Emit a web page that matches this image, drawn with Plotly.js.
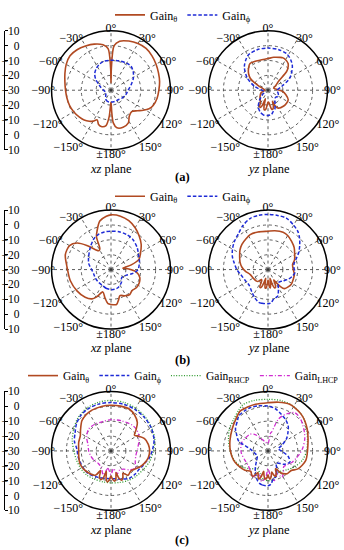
<!DOCTYPE html>
<html><head><meta charset="utf-8">
<script src="https://cdn.plot.ly/plotly-3.0.1.min.js"></script>
<style>html,body{margin:0;padding:0;background:#fff}#g{width:344px;height:550px}</style>
</head><body><div id="g"></div>
<script>
// ---------- tick labels ----------
const angTickVals = [0,30,60,90,120,150,180,210,240,270,300,330];
const angTickText = ['0°','30°','60°','90°','120°','150°','±180°','−150°','−120°','−90°','−60°','−30°'];
const radGridVals = [-20,-10,0];
const radRange = [-30,10];
const scaleVals = [-40,-30,-20,-10,0,10,20,30,40];
const scaleText = ['10','0','−10','−20','−30','−20','−10','0','10'];
const seriesNames = ['Gain<sub>θ</sub>','Gain<sub>ϕ</sub>','Gain<sub>RHCP</sub>','Gain<sub>LHCP</sub>'];
const panelLabels = ['(a)','(b)','(c)'];

// ---------- (a) ----------
const a_xz_T_ang = [-180,-176,-172,-166,-160,-155,-150,-145,-138,-130,-120,-110,-100,-90,-80,-70,-60,-50,-40,-30,-20,-10,-4,-1,0,1,4,10,20,30,40,50,60,70,80,90,100,110,116,122,128,136,145,152,162,171,176,178,180];
const a_xz_T_dB  = [-22,-12,-6,-4.7,-5.5,-8,-6,-4.5,-3,-2,-1,-0.3,0.1,0.6,1.5,3,4.8,6,5.5,4.3,3,1,-2,-15,-25,-15,0,3.5,5.2,6.3,6.7,6,5,4,3.2,2.2,1.5,0.2,-1.5,-4.5,-7.5,-10,-8.6,-5.1,-3.8,-4.4,-8,-15,-22];
const a_xz_P_ang = [-180,-165,-150,-135,-120,-105,-90,-75,-65,-55,-45,-35,-25,-15,0,15,30,40,50,62,75,89,105,127,143,160,180];
const a_xz_P_dB  = [-22,-22,-23,-25,-26,-26,-25,-23,-21,-17.5,-14.5,-12.5,-11,-10,-9.8,-9.5,-9,-9,-10.5,-13,-16,-18.4,-19.5,-21,-22,-22,-22];
const a_yz_T_ang = [-180,-177,-173,-169,-166,-163,-160,-157,-153,-149,-145,-130,-110,-90,-75,-65,-60,-56,-50,-44,-34,-25,-15,0,10,20,25,30,37,42,45,50,60,70,85,95,104,115,125,135,150,155,158,161,165,169,173,177,180];
const a_yz_T_dB  = [-22,-20,-17,-16.5,-19,-24,-20,-17.5,-17.5,-20,-21,-23,-25,-28,-27,-23,-19,-15.6,-13,-11,-8.4,-8.7,-9.1,-8.7,-7.5,-6.5,-6,-6.3,-7.5,-10,-12.4,-21,-24,-26,-24,-20,-17.6,-15,-14.8,-15,-16,-18,-22,-19,-17,-17,-20,-22,-22];
const a_yz_P_ang = [-180,-170,-160,-150,-140,-130,-120,-105,-90,-75,-60,-45,-30,-15,0,15,27,37,46,61,75,90,105,120,135,152,160,166,172,180];
const a_yz_P_dB  = [-13,-13,-14.5,-17,-21,-25,-27,-27,-26,-21,-14,-7.5,-3,-1.8,-1.6,-1.8,-2.4,-4.5,-7.2,-13.3,-20.6,-24,-23,-22,-23,-20,-16.5,-15.3,-13.5,-13];

// ---------- (b) ----------
const b_xz_T_ang = [-180,-175,-168,-160,-152,-147,-137,-122,-105,-87,-72,-60,-52,-45,-38,-32,-28,-24,-20,-13,-5,0,10,20,30,40,50,60,70,77,83,88,95,105,115,125,135,143,152,161,166,171,180];
const b_xz_T_dB  = [-6.5,-7,-10.5,-14,-9,-6.5,-4.5,-3,-1.6,-0.4,2.3,2.2,-0.9,-7,-13,-15,-14,-6,-2.5,3.5,6,6.8,6.5,5,2.5,-0.5,-3.5,-7,-10,-16,-22,-18,-13,-10,-9,-9,-10,-9,-10,-11.5,-9,-6.2,-6.5];
const b_xz_P_ang = [-180,-165,-150,-135,-120,-105,-90,-75,-62,-44,-30,-20,-10,0,12,24,36,50,62,73,90,100,110,127,140,158,170,180];
const b_xz_P_dB  = [-16.5,-17,-18,-18,-18,-18,-17,-14.5,-12.9,-9.8,-6.5,-4.9,-4.3,-4.2,-4,-4.2,-5,-7,-9,-10,-11.8,-15,-19,-21,-19,-17,-16.5,-16.5];
const b_yz_T_ang = [-180,-177,-174,-171,-168,-165,-162,-159,-155,-151,-147,-140,-135,-120,-105,-95,-85,-75,-67,-55,-46,-35,-27,-15,0,10,22,30,40,50,60,70,78,90,100,110,122,139,144,148,151,154,157,161,164,167,170,173,176,178,180];
const b_yz_T_dB  = [-23,-20,-17.5,-17.5,-21,-24,-20,-17,-17,-21,-22,-19.5,-19,-18.5,-17.5,-15,-12.4,-10.5,-9.3,-7,-5.6,-4.5,-3.6,-3.8,-4.2,-3.5,-2.9,-3.5,-5.3,-7,-9.3,-11,-13.1,-13,-12,-11.8,-11.5,-13,-16,-20,-22,-19,-17,-17,-20,-24,-20,-17.5,-19,-22,-23];
const b_yz_P_ang = [-180,-170,-164,-155,-145,-130,-115,-100,-90,-78,-70,-60,-50,-39,-30,-19,-10,0,10,20,30,38,45,52,60,68,77,86,96,105,115,128,141,152,160,169,175,180];
const b_yz_P_dB  = [-7,-7,-7.1,-9,-11.3,-13.5,-13,-11.3,-9,-6.6,-4.5,-2.4,-0.5,1.4,4,6.5,7,7.1,7,6.7,4.5,2.6,0,-2.9,-6,-9.3,-12,-12.5,-11.7,-13,-14.8,-17.5,-18.8,-15,-11,-9.8,-7.5,-7];

// ---------- (c) ----------
const c_xz_T_ang = [-180,-176,-173,-170,-167,-164,-160,-156,-152,-148,-145,-135,-125,-112,-100,-87,-75,-64,-55,-44,-35,-25,-12,0,12,24,33,43,50,56,62,70,80,90,100,110,120,128,135,145,149,152,155,160,164,167,170,173,177,180];
const c_xz_T_dB  = [-13,-10,-9,-11,-16,-11,-9.5,-11,-15,-11,-10,-9,-8,-7.4,-8,-8.2,-7.5,-7,-5,-1.8,-0.5,0.3,0.6,0.7,0.8,0.7,-1,-4,-8,-11,-9,-6,-4.5,-4,-4.5,-6,-8,-10,-11,-10,-12,-13,-11,-9,-11,-15,-11,-9.5,-11,-13];
const c_xz_P_ang = [-180,-165,-151,-135,-120,-110,-100,-87,-75,-63,-52,-41,-30,-15,0,15,30,45,60,75,88,102,110,116,122,135,145,158,170,180];
const c_xz_P_dB  = [-11.3,-11,-10,-8.5,-8,-8,-7.5,-7,-4.5,-2.9,-0.5,1.3,2.2,2.6,2.5,2.5,2.2,1.8,1.2,0,-2,-4,-6,-6.5,-7.3,-7.5,-7.8,-9.5,-11,-11.3];
const c_xz_R_ang = [-180,-165,-150,-135,-120,-105,-90,-75,-60,-45,-30,-15,0,15,30,45,60,75,90,105,120,135,150,165,180];
const c_xz_R_dB  = [-8.5,-8.5,-8,-7,-6.5,-6,-5,-3,-1,1.5,3,3.8,4,3.8,3.2,2.5,1.5,0.5,-1.5,-3,-5,-6,-7,-8,-8.5];
const c_xz_L_ang = [-180,-170,-162,-150,-135,-120,-105,-90,-75,-60,-46,-30,-15,0,20,40,50,60,70,85,100,115,125,135,145,155,165,172,180];
const c_xz_L_dB  = [-14,-18,-13,-17,-18,-17,-16,-15,-14,-11,-9,-9,-9.5,-9,-8.5,-7.5,-7.6,-8.5,-10,-12,-13,-12,-10,-12,-15,-16,-14,-18,-14];
const c_yz_T_ang = [-180,-177,-174,-171,-168,-165,-162,-159,-155,-151,-148,-144,-140,-130,-115,-105,-90,-75,-59,-45,-35,-25,-15,0,12,25,42,61,82,104,121,130,140,150,154,157,160,163,166,170,173,176,178,180];
const c_yz_T_dB  = [-14,-11.5,-11,-13,-16,-12,-10,-11.5,-14,-11,-10,-11,-12,-9.8,-7.5,-6,-4.7,-3.5,-1.8,0.5,2.7,2.6,2.5,2.4,3.5,4.6,3.3,0.2,-2.9,-3.8,-6.5,-9.5,-10,-13,-16,-17,-14,-12,-13,-15.5,-12.5,-11,-12,-14];
const c_yz_P_ang = [-180,-170,-166,-160,-149,-140,-130,-115,-100,-84,-71,-62,-56,-45,-40,-30,-22,-12,0,10,20,30,39,48,57,68,79,90,105,117,130,145,155,162,169,175,180];
const c_yz_P_dB  = [-6.5,-6.8,-7.3,-9,-13.3,-17,-20,-22,-21,-18,-9,-6,-3.6,-1,0.7,1.2,1.5,1,0.2,-1.2,-3.8,-6,-8.4,-12,-15.2,-20,-23,-21,-16,-13.5,-16,-20,-16,-12,-11,-7.5,-6.5];
const c_yz_R_ang = [-180,-170,-160,-150,-135,-120,-105,-90,-75,-60,-47,-35,-28,-15,0,15,30,45,60,75,90,105,120,135,150,165,175,180];
const c_yz_R_dB  = [-10,-11,-14,-16,-13,-9,-6.5,-4.5,-2.5,0,1.4,4,5.4,5.2,4.7,5,4.5,3,0,-2.5,-4,-6,-9,-12,-14,-12,-10,-10];
const c_yz_L_ang = [-180,-175,-168,-160,-150,-140,-125,-113,-95,-80,-72,-60,-47,-38,-30,-15,0,8,11,18,25,35,45,54,63,72,85,95,105,115,125,135,145,152,160,168,175,180];
const c_yz_L_dB  = [-18,-12,-9,-13,-10,-12,-13.5,-13.3,-12,-11.5,-11.5,-12.5,-13.5,-16,-20,-24,-25,-18,-17,-7.6,-3,1.4,0.8,-1,-2.5,-4,-6.5,-8.6,-10.5,-12,-14,-15,-12,-10,-14,-9.5,-14,-18];

// ---------- styles ----------
const styles = [
  {color:'#B14A22', width:1.6, dash:'solid'},
  {color:'#1E2BD6', width:1.5, dash:'3.5px,2px'},
  {color:'#2E9A2E', width:1.3, dash:'1px,1.6px'},
  {color:'#D02CD0', width:1.3, dash:'4px,2px,1px,2px'}
];
const SERIF = 'Liberation Serif, Times New Roman, serif';

const traces = [];
function add(sub, ang, dB, k, legend, show){
  traces.push({type:'scatterpolar', subplot:sub, theta:ang, r:dB, mode:'lines',
    line:Object.assign({shape:'spline', smoothing:0.8}, styles[k]),
    name:seriesNames[k], legend:legend, legendrank:k+1, showlegend:show, hoverinfo:'skip'});
}
add('polar',  a_xz_T_ang, a_xz_T_dB, 0, 'legend', true);
add('polar',  a_xz_P_ang, a_xz_P_dB, 1, 'legend', true);
add('polar2', a_yz_T_ang, a_yz_T_dB, 0, 'legend', false);
add('polar2', a_yz_P_ang, a_yz_P_dB, 1, 'legend', false);
add('polar3', b_xz_T_ang, b_xz_T_dB, 0, 'legend2', true);
add('polar3', b_xz_P_ang, b_xz_P_dB, 1, 'legend2', true);
add('polar4', b_yz_T_ang, b_yz_T_dB, 0, 'legend2', false);
add('polar4', b_yz_P_ang, b_yz_P_dB, 1, 'legend2', false);
add('polar5', c_xz_R_ang, c_xz_R_dB, 2, 'legend3', true);
add('polar5', c_xz_L_ang, c_xz_L_dB, 3, 'legend3', true);
add('polar5', c_xz_P_ang, c_xz_P_dB, 1, 'legend3', true);
add('polar5', c_xz_T_ang, c_xz_T_dB, 0, 'legend3', true);
add('polar6', c_yz_R_ang, c_yz_R_dB, 2, 'legend3', false);
add('polar6', c_yz_L_ang, c_yz_L_dB, 3, 'legend3', false);
add('polar6', c_yz_P_ang, c_yz_P_dB, 1, 'legend3', false);
add('polar6', c_yz_T_ang, c_yz_T_dB, 0, 'legend3', false);

// ---------- geometry ----------
const W=344, H=550, R=60, RL=56;
const colX = [111, 268];
const rowY = [86, 267, 450];
function dom(cx, cy, rr){ return {x:[(cx-rr)/W,(cx+rr)/W], y:[1-(cy+rr)/H, 1-(cy-rr)/H]}; }
function polarCfg(cx, cy){
  return {
    domain: dom(cx, cy, R), bgcolor:'rgba(0,0,0,0)',
    radialaxis:{range:radRange, tickmode:'array', tickvals:radGridVals, showticklabels:false, ticks:'',
      showline:false, gridcolor:'#333', griddash:'dot', gridwidth:0.8},
    angularaxis:{rotation:90, direction:'clockwise', tickmode:'array', tickvals:angTickVals,
      showticklabels:false, ticks:'', showline:true, linecolor:'#000', linewidth:1.5,
      gridcolor:'#333', griddash:'dot', gridwidth:0.8}
  };
}
// slightly smaller, invisible polar that only carries the angle labels (closer to the rim)
function labelCfg(cx, cy){
  return {
    domain: dom(cx, cy, RL), bgcolor:'rgba(0,0,0,0)',
    radialaxis:{visible:false, range:radRange},
    angularaxis:{rotation:90, direction:'clockwise', tickmode:'array', tickvals:angTickVals, ticktext:angTickText,
      ticks:'', showline:false, showgrid:false, tickfont:{family:SERIF, size:12, color:'#000'}}
  };
}

const layout = {
  width:W, height:H, margin:{l:0,r:0,t:0,b:0}, paper_bgcolor:'#fff', plot_bgcolor:'rgba(0,0,0,0)',
  showlegend:true, hovermode:false,
  font:{family:SERIF, color:'#000', size:12},
  annotations:[]
};
let n=0;
rowY.forEach(cy=>colX.forEach(cx=>{
  const main = n===0 ? 'polar' : 'polar'+(n+1);
  const lab = 'polar'+(n+7);
  layout[main] = polarCfg(cx, cy);
  layout[lab] = labelCfg(cx, cy);
  traces.push({type:'scatterpolar', subplot:lab, theta:[0], r:[radRange[0]], mode:'markers',
    marker:{opacity:0, size:1}, showlegend:false, hoverinfo:'skip'});
  n++;
}));

// scale bars (left)
rowY.forEach((cy,i)=>{
  const xa = i===0 ? 'x' : 'x'+(i+1);
  const ya1 = 'y'+(i===0 ? '' : (2*i+1));
  const ya2 = 'y'+(2*i+2);
  const yd = [1-(cy+R)/H, 1-(cy-R)/H];
  layout['xaxis'+(i===0?'':(i+1))] = {domain:[0.01,0.065], anchor:ya1, visible:false, range:[0,1], fixedrange:true};
  layout['yaxis'+(i===0?'':(2*i+1))] = {domain:yd, anchor:'free', position:19.5/W, side:'left', range:[-40,40],
    tickmode:'array', tickvals:scaleVals, ticktext:scaleText, ticks:'', showline:false, showgrid:false, zeroline:false,
    tickfont:{family:SERIF, size:11.5, color:'#000'}, fixedrange:true};
  layout['yaxis'+(2*i+2)] = {overlaying:ya1, anchor:'free', position:4/W, side:'right', range:[-40,40],
    tickmode:'array', tickvals:scaleVals, showticklabels:false, ticks:'outside', ticklen:3, tickcolor:'#000', tickwidth:1,
    showline:true, linecolor:'#000', linewidth:1, showgrid:false, zeroline:false, fixedrange:true};
  [ya1, ya2].forEach(ya=>traces.push({type:'scatter', x:scaleVals.map(()=>0.5), y:scaleVals, xaxis:xa, yaxis:ya,
    mode:'markers', marker:{opacity:0}, showlegend:false, hoverinfo:'skip'}));
});

// legends
const legBase = {orientation:'h', bgcolor:'rgba(0,0,0,0)', borderwidth:0, font:{family:SERIF, size:12, color:'#000'},
  xanchor:'left', yanchor:'middle', itemwidth:30, tracegroupgap:0, traceorder:'normal'};
layout.legend  = Object.assign({}, legBase, {x:110/W, y:1-10/H});
layout.legend2 = Object.assign({}, legBase, {x:110/W, y:1-193/H});
layout.legend3 = Object.assign({}, legBase, {x:28/W, y:1-374/H, font:{family:SERIF, size:11.5, color:'#000'}});

// annotations
function ann(text, x, y, extra){
  layout.annotations.push(Object.assign({text:text, x:x/W, y:1-y/H, xref:'paper', yref:'paper', showarrow:false,
    xanchor:'center', yanchor:'middle', font:{family:SERIF, size:12.5, color:'#000'}}, extra||{}));
}
const planeY = [165, 346, 530];
planeY.forEach(py=>{ ann('<i>xz</i> plane', colX[0], py); ann('<i>yz</i> plane', colX[1], py); });
const labY = [174, 358, 540];
labY.forEach((ly,i)=>ann('<b>'+panelLabels[i]+'</b>', 182, ly));

Plotly.newPlot('g', traces, layout, {staticPlot:true, displayModeBar:false});
</script></body></html>
